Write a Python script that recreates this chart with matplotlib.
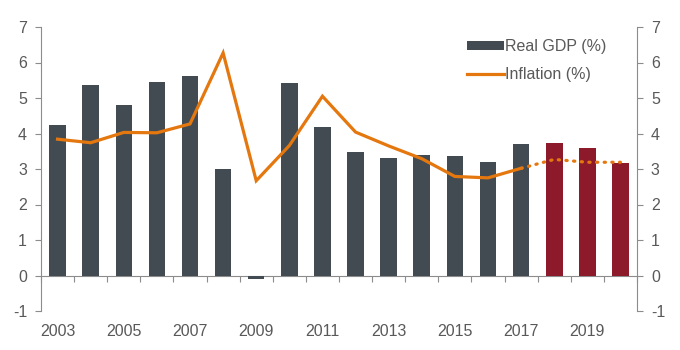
import matplotlib
matplotlib.use("Agg")
import matplotlib.pyplot as plt
from matplotlib.patches import Patch
from matplotlib.lines import Line2D
import numpy as np

plt.rcParams['font.family'] = ['Liberation Sans', 'DejaVu Sans']

years = list(range(2003, 2021))
gdp = [4.25, 5.38, 4.81, 5.45, 5.63, 3.0, -0.1, 5.42, 4.17, 3.47, 3.31, 3.4, 3.37, 3.2, 3.7, 3.73, 3.6, 3.17]
inflation = [3.84, 3.74, 4.03, 4.02, 4.27, 6.27, 2.67, 3.66, 5.05, 4.04, 3.65, 3.29, 2.79, 2.75, 3.02, 3.27, 3.19, 3.19]
forecast_start = 2018
actual_end = 2017
xtick_labels = [str(y) for y in years if y % 2 == 1]
yticks = list(range(-1, 8))

GRAY = '#434B52'
RED = '#8D1A2B'
ORANGE = '#E5770F'
TXT = '#595959'
SPINE = '#8C8C8C'

fig = plt.figure(figsize=(6.8, 3.5), dpi=100)
ax = fig.add_axes([41/680, 1-311/350, 596/680, 284/350])

x = np.arange(len(years))
colors = [RED if y >= forecast_start else GRAY for y in years]
ax.bar(x, gdp, width=0.5, color=colors, zorder=2)

ia = years.index(actual_end)
ax.plot(x[:ia+1], inflation[:ia+1], color=ORANGE, lw=2.3, zorder=3, solid_joinstyle='miter')
ax.plot(x[ia:], inflation[ia:], color=ORANGE, lw=2.3, linestyle=(0, (0.4, 2.0)),
        dash_capstyle='round', zorder=3)

ax.set_xlim(-0.5, len(years) - 0.5)
ax.set_ylim(-1, 7)
ax.set_yticks(yticks)
ax.set_yticklabels([str(t) for t in yticks])

# x labels at odd years
ax.set_xticks([years.index(int(l)) for l in xtick_labels])
ax.set_xticklabels(xtick_labels)
ax.tick_params(axis='x', length=0, pad=9, labelsize=11.5, labelcolor=TXT)
ax.tick_params(axis='y', direction='out', length=4, color=SPINE, labelsize=11.5, labelcolor=TXT, pad=6)

for s in ['top', 'right', 'bottom']:
    ax.spines[s].set_visible(False)
ax.spines['left'].set_color(SPINE)

# zero axis with tick marks between categories
sec = ax.secondary_xaxis(1/8)
sec.set_xticks(np.arange(len(years) + 1) - 0.5)
sec.tick_params(axis='x', direction='out', length=4, color=SPINE, labelbottom=False, labeltop=False)
sec.spines['bottom'].set_color(SPINE)
sec.spines['top'].set_visible(False)

ax2 = ax.twinx()
ax2.set_ylim(-1, 7)
ax2.set_yticks(yticks)
ax2.set_yticklabels([str(t) for t in yticks])
ax2.tick_params(axis='y', direction='out', length=4, color=SPINE, labelsize=11.5, labelcolor=TXT, pad=6)
for s in ['top', 'left', 'bottom']:
    ax2.spines[s].set_visible(False)
ax2.spines['right'].set_color(SPINE)

handles = [Patch(facecolor=GRAY, edgecolor='none'), Line2D([0], [0], color=ORANGE, lw=2.3)]
leg = ax.legend(handles, ['Real GDP (%)', 'Inflation (%)'], loc='upper left',
                bbox_to_anchor=(0.715, 0.957), frameon=False, fontsize=11.5,
                handlelength=2.3, handleheight=0.5, handletextpad=0.1, labelspacing=0.8,
                borderaxespad=0, borderpad=0)
for t in leg.get_texts():
    t.set_color(TXT)

fig.savefig('out.png', dpi=100)
